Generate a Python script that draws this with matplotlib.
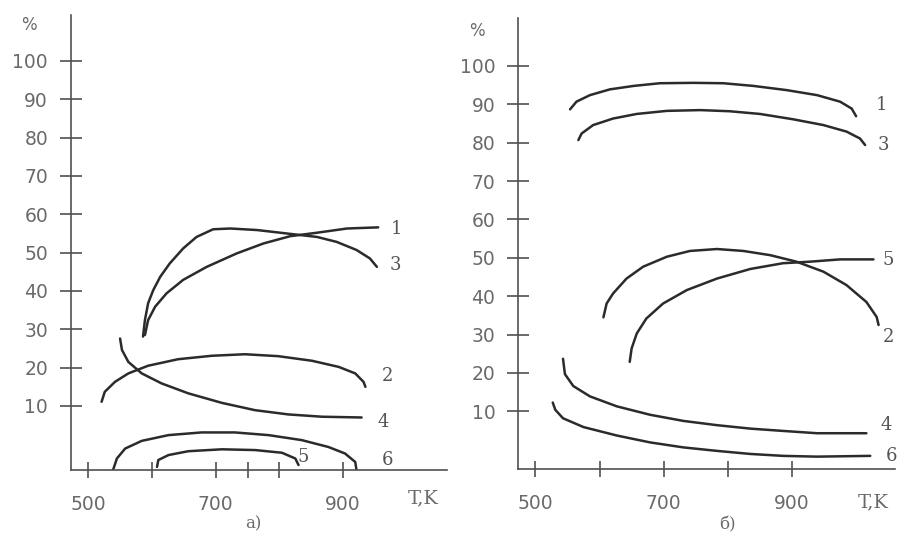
import matplotlib.pyplot as plt

# panel a) : temperature, K  vs  percent
a1_t = [589, 594, 605, 623, 649, 686, 733, 775, 817, 859, 906, 955]
a1_v = [28.5, 32.4, 35.9, 39.4, 42.9, 46.3, 49.8, 52.4, 54.3, 55.2, 56.3, 56.6]
a3_t = [586, 589, 594, 602, 613, 628, 649, 670, 696, 723, 765, 817, 859, 890, 921, 942, 953]
a3_v = [28.1, 32.4, 36.8, 40.2, 43.7, 47.2, 51.1, 54.1, 56.1, 56.3, 55.9, 54.9, 54.1, 52.8, 50.7, 48.5, 46.3]
a2_t = [521, 526, 542, 563, 594, 641, 694, 746, 798, 851, 893, 919, 932, 935]
a2_v = [11.1, 13.7, 16.3, 18.5, 20.5, 22.2, 23.1, 23.5, 23.0, 21.8, 20.2, 18.5, 16.3, 15.0]
a4_t = [550, 553, 563, 584, 615, 657, 710, 762, 814, 867, 929]
a4_v = [27.6, 24.6, 21.5, 18.5, 15.9, 13.3, 10.8, 8.9, 7.8, 7.2, 7.0]
a5_t = [608, 610, 626, 657, 710, 762, 804, 825, 830]
a5_v = [-5.9, -4.1, -2.8, -1.8, -1.3, -1.5, -2.2, -3.7, -5.4]
a6_t = [539, 545, 558, 584, 626, 678, 730, 783, 835, 877, 903, 919, 921]
a6_v = [-6.7, -3.7, -1.1, 0.9, 2.4, 3.1, 3.1, 2.4, 1.1, -0.7, -2.4, -4.6, -6.7]

# panel б)
b1_t = [554, 564, 585, 616, 653, 694, 746, 793, 840, 892, 939, 975, 993, 1000]
b1_v = [88.7, 90.7, 92.4, 93.9, 94.8, 95.5, 95.6, 95.5, 94.8, 93.7, 92.4, 90.7, 88.9, 86.9]
b3_t = [567, 572, 590, 621, 658, 705, 757, 803, 850, 902, 949, 985, 1006, 1014]
b3_v = [80.7, 82.4, 84.6, 86.3, 87.5, 88.3, 88.5, 88.2, 87.5, 86.1, 84.6, 82.9, 81.1, 79.4]
b2_t = [606, 611, 621, 642, 668, 705, 741, 783, 824, 866, 907, 949, 985, 1016, 1032, 1035]
b2_v = [34.5, 38.1, 40.7, 44.6, 47.7, 50.3, 51.8, 52.3, 51.8, 50.7, 49.0, 46.4, 42.9, 38.5, 34.6, 32.5]
b5_t = [647, 650, 658, 673, 699, 736, 783, 835, 886, 928, 975, 1027]
b5_v = [22.9, 26.4, 30.3, 34.2, 38.1, 41.6, 44.6, 47.1, 48.6, 49.0, 49.6, 49.6]
b4_t = [543, 546, 559, 585, 627, 679, 731, 783, 835, 886, 939, 1016]
b4_v = [23.7, 19.7, 16.6, 13.9, 11.3, 9.1, 7.5, 6.4, 5.5, 4.9, 4.3, 4.3]
b6_t = [527, 531, 543, 575, 627, 679, 731, 783, 835, 886, 939, 1022]
b6_v = [12.3, 10.4, 8.2, 5.9, 3.7, 1.9, 0.6, -0.3, -1.1, -1.6, -1.8, -1.6]

# curve number labels: (text, T, %)
a_labels = [("1", 984, 56.1), ("3", 982, 46.7), ("2", 969, 17.9),
            ("4", 963, 5.9), ("5", 838, -3.3), ("6", 969, -4.1)]
b_labels = [("1", 1040, 89.9), ("3", 1042, 79.3), ("5", 1050, 49.5),
            ("2", 1050, 29.5), ("4", 1047, 6.4), ("6", 1055, -1.6)]

y_ticks = [10, 20, 30, 40, 50, 60, 70, 80, 90, 100]
x_major = [500, 700, 900]
a_minor = [600, 750, 800]
b_minor = [600, 800]

LINE = '#2b2b2b'
AXC = '#505050'
TXT = '#6a6a6a'

fig = plt.figure(figsize=(9.02, 5.35), dpi=100)
fig.patch.set_facecolor('white')


def style_axes(ax, xlim, ylim, minor):
    ax.set_xlim(*xlim)
    ax.set_ylim(*ylim)
    for s in ['top', 'right']:
        ax.spines[s].set_visible(False)
    for s in ['left', 'bottom']:
        ax.spines[s].set_color(AXC)
        ax.spines[s].set_linewidth(1.2)
    ax.set_yticks(y_ticks)
    ax.set_yticklabels([str(v) for v in y_ticks])
    ax.set_xticks(x_major)
    ax.set_xticklabels([str(v) for v in x_major])
    ax.set_xticks(minor, minor=True)
    ax.tick_params(axis='y', direction='inout', length=16, width=1.2,
                   color=AXC, pad=8.5, labelsize=13.5, labelcolor=TXT)
    ax.tick_params(axis='x', which='both', direction='inout', length=11.5,
                   width=1.2, color=AXC, pad=12, labelsize=13.5, labelcolor=TXT)
    ax.patch.set_alpha(0)


ax1 = fig.add_axes([71 / 902, 1 - 470 / 535, 376 / 902, 455 / 535])
style_axes(ax1, (473, 1063), (-6.7, 112.0), a_minor)
for t, v in [(a1_t, a1_v), (a3_t, a3_v), (a2_t, a2_v),
             (a4_t, a4_v), (a5_t, a5_v), (a6_t, a6_v)]:
    ax1.plot(t, v, color=LINE, lw=1.8, solid_capstyle='round',
             solid_joinstyle='round')
for s, t, v in a_labels:
    ax1.text(t, v, s, ha='center', va='center', fontsize=13,
             family='DejaVu Serif', color='#555555')

ax2 = fig.add_axes([518.3 / 902, 1 - 469.3 / 535, 376.7 / 902, 451.3 / 535])
style_axes(ax2, (473.3, 1060.6), (-5.1, 112.5), b_minor)
for t, v in [(b1_t, b1_v), (b3_t, b3_v), (b2_t, b2_v),
             (b5_t, b5_v), (b4_t, b4_v), (b6_t, b6_v)]:
    ax2.plot(t, v, color=LINE, lw=1.8, solid_capstyle='round',
             solid_joinstyle='round')
for s, t, v in b_labels:
    ax2.text(t, v, s, ha='center', va='center', fontsize=13,
             family='DejaVu Serif', color='#555555')

# axis captions and panel letters
for x, y, s in [(29, 25, '%'), (477, 31, '%')]:
    fig.text(x / 902, 1 - y / 535, s, ha='center', va='center',
             fontsize=12, color=TXT)
for x, y in [(423, 498), (873, 502)]:
    fig.text(x / 902, 1 - y / 535, 'T,K', ha='center', va='center',
             fontsize=14, family='DejaVu Serif', color=TXT)
fig.text(253 / 902, 1 - 524 / 535, 'а)', ha='center', va='center',
         fontsize=12, family='DejaVu Serif', color=TXT)
fig.text(727 / 902, 1 - 525 / 535, 'б)', ha='center', va='center',
         fontsize=12, family='DejaVu Serif', color=TXT)

fig.savefig('out.png', dpi=100, facecolor='white')
